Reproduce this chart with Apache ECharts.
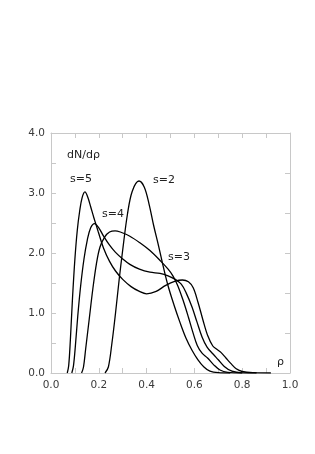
<!DOCTYPE html>
<html>
<head>
<meta charset="utf-8">
<script src="https://cdn.jsdelivr.net/npm/echarts@6/dist/echarts.min.js"></script>
<style>
html,body{margin:0;padding:0;background:#fff;}
#chart{width:315px;height:454px;}
</style>
</head>
<body>
<div id="chart"></div>
<script>
var xTicks = [0, 0.2, 0.4, 0.6, 0.8, 1.0];
var yTicks = [0, 1, 2, 3, 4];
var seriesNames = ['s=2', 's=3', 's=4', 's=5'];

var s2 = [[0.226,0],[0.24,0.1],[0.255,0.5],[0.27,1.0],[0.285,1.55],[0.3,2.05],[0.32,2.65],[0.34,3.03],[0.368,3.2],[0.39,3.1],[0.41,2.82],[0.43,2.45],[0.45,2.12],[0.47,1.77],[0.49,1.45],[0.515,1.13],[0.54,0.84],[0.565,0.58],[0.59,0.38],[0.615,0.22],[0.64,0.1],[0.665,0.03],[0.7,0.005],[0.75,0]];
var s3 = [[0.128,0],[0.136,0.1],[0.145,0.4],[0.16,0.9],[0.175,1.4],[0.19,1.82],[0.205,2.1],[0.225,2.27],[0.245,2.35],[0.268,2.37],[0.29,2.35],[0.33,2.28],[0.372,2.17],[0.414,2.04],[0.46,1.86],[0.49,1.73],[0.51,1.62],[0.53,1.46],[0.552,1.22],[0.575,0.93],[0.595,0.66],[0.612,0.46],[0.632,0.33],[0.655,0.25],[0.68,0.14],[0.707,0.05],[0.74,0.01],[0.8,0]];
var s4 = [[0.087,0],[0.094,0.12],[0.102,0.45],[0.112,0.95],[0.124,1.45],[0.138,1.9],[0.152,2.22],[0.166,2.42],[0.182,2.49],[0.2,2.42],[0.22,2.28],[0.245,2.13],[0.27,2.01],[0.3,1.9],[0.33,1.81],[0.37,1.73],[0.414,1.68],[0.456,1.66],[0.49,1.62],[0.52,1.56],[0.545,1.48],[0.565,1.34],[0.59,1.1],[0.61,0.86],[0.632,0.6],[0.653,0.43],[0.677,0.32],[0.7,0.22],[0.725,0.11],[0.757,0.03],[0.8,0.003],[0.86,0]];
var s5 = [[0.068,0],[0.074,0.12],[0.081,0.55],[0.09,1.25],[0.1,1.9],[0.11,2.38],[0.12,2.7],[0.13,2.92],[0.142,3.02],[0.154,2.93],[0.166,2.77],[0.18,2.58],[0.198,2.35],[0.22,2.08],[0.245,1.86],[0.27,1.7],[0.3,1.56],[0.335,1.44],[0.37,1.36],[0.4,1.32],[0.44,1.36],[0.48,1.46],[0.52,1.53],[0.55,1.55],[0.575,1.52],[0.595,1.42],[0.615,1.18],[0.636,0.88],[0.656,0.62],[0.677,0.45],[0.695,0.39],[0.712,0.34],[0.732,0.25],[0.752,0.16],[0.775,0.07],[0.8,0.025],[0.85,0.005],[0.92,0]];
var seriesData = [s2, s3, s4, s5];

var textLabels = [
  {text: 'dN/dρ', x: 67, y: 156},
  {text: 's=5', x: 70, y: 180},
  {text: 's=4', x: 102, y: 215},
  {text: 's=2', x: 153, y: 181},
  {text: 's=3', x: 168, y: 258},
  {text: 'ρ', x: 277, y: 363}
];

var FONT = 'DejaVu Sans';
var frame = '#c8c8c8';
var txt = '#3a3a3a';

var chart = echarts.init(document.getElementById('chart'), null, {renderer: 'canvas'});
var axisCommon = {
  axisLine: {show: true, onZero: false, lineStyle: {color: frame, width: 1}},
  axisTick: {show: true, inside: true, length: 5, lineStyle: {color: frame}},
  splitLine: {show: false}
};
chart.setOption({
  animation: false,
  backgroundColor: '#fff',
  grid: {left: 51, top: 133, right: 25, bottom: 81, containLabel: false},
  xAxis: [
    Object.assign({}, axisCommon, {
      type: 'value', min: xTicks[0], max: xTicks[xTicks.length-1], interval: xTicks[1]-xTicks[0], position: 'bottom',
      minorTick: {show: true, splitNumber: 2, length: 5, lineStyle: {color: frame}},
      axisLabel: {show: true, color: txt, fontFamily: FONT, fontSize: 10.5, margin: 7,
        formatter: function(v){ return v.toFixed(1); }}
    }),
    Object.assign({}, axisCommon, {
      type: 'value', min: 0, max: 1, interval: 0.1, position: 'top',
      axisLabel: {show: false}
    })
  ],
  yAxis: [
    Object.assign({}, axisCommon, {
      type: 'value', min: yTicks[0], max: yTicks[yTicks.length-1], interval: yTicks[1]-yTicks[0], position: 'left',
      minorTick: {show: true, splitNumber: 2, length: 5, lineStyle: {color: frame}},
      axisLabel: {show: true, color: txt, fontFamily: FONT, fontSize: 10.5, margin: 6,
        formatter: function(v){ return v.toFixed(1); }}
    }),
    Object.assign({}, axisCommon, {
      type: 'value', min: 0, max: 6, interval: 1, position: 'right',
      axisLabel: {show: false}
    })
  ],
  series: seriesNames.map(function(n, i){
    return {
      name: n, type: 'line', data: seriesData[i], xAxisIndex: 0, yAxisIndex: 0,
      showSymbol: false, smooth: 0.35,
      lineStyle: {color: '#000', width: 1.3}
    };
  }),
  graphic: textLabels.map(function(t){
    return {type: 'text', left: t.x, top: t.y - 6, silent: true,
      style: {text: t.text, fill: '#222', font: '11px "DejaVu Sans"'}};
  })
});
</script>
</body>
</html>
